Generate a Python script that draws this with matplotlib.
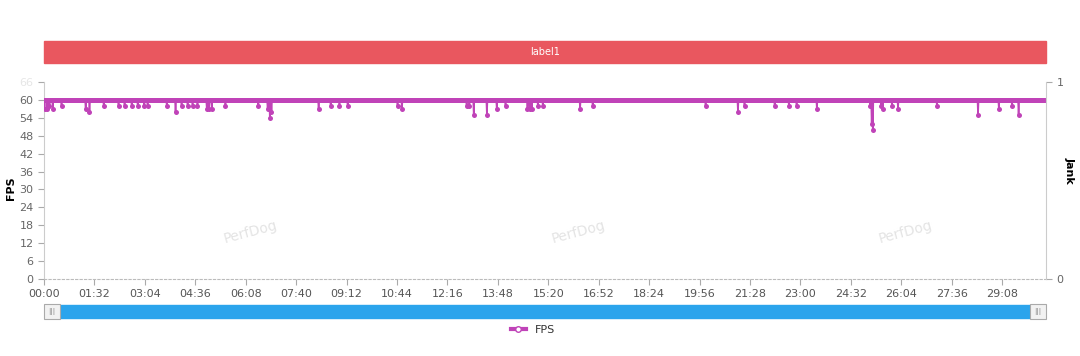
import matplotlib
matplotlib.use("Agg")
import matplotlib.pyplot as plt
from matplotlib.patches import Rectangle
from matplotlib.lines import Line2D
import numpy as np

### DATA
duration_s = 1828          # length of the session in seconds, 1 sample / s
fps_plateau = 60           # fps holds at 60 except for the dips below
dip_sec = [1, 6, 10, 16, 32, 76, 83, 109, 136, 147, 160, 171, 183, 189, 224,
           240, 251, 262, 271, 280, 297, 301, 306, 331, 391, 408, 412, 415,
           501, 523, 539, 554, 645, 653, 771, 776, 784, 808, 826, 842, 882,
           886, 890, 901, 910, 978, 1001, 1207, 1266, 1278, 1333, 1359, 1373,
           1410, 1507, 1510, 1512, 1527, 1530, 1547, 1558, 1629, 1704, 1742,
           1766, 1778]
dip_fps = [57, 57, 58, 57, 58, 57, 56, 58, 58, 58, 58, 58, 58, 58, 58,
           56, 58, 58, 58, 58, 57, 57, 57, 58, 58, 57, 54, 56,
           57, 58, 58, 58, 58, 57, 58, 58, 55, 55, 57, 58, 57,
           57, 57, 58, 58, 57, 58, 58, 56, 58, 58, 58, 58,
           57, 58, 52, 50, 58, 57, 58, 57, 58, 55, 57,
           58, 55]
fps_ticks = list(range(0, 67, 6))
time_tick_step = 92         # seconds between x labels (00:00, 01:32, ...)
bar_label = "label1"
watermark = "PerfDog"
### END data

t = np.arange(duration_s + 1)
fps = np.full(t.shape, fps_plateau, dtype=float)
fps[dip_sec] = dip_fps

line_col = "#c043b8"
grey = "#666666"

fig = plt.figure(figsize=(10.8, 3.56), dpi=100)
ax = fig.add_axes([44 / 1080, 1 - 279 / 356, 1002 / 1080, 197 / 356])

ax.plot(t, fps, color=line_col, lw=1.2, marker="o", ms=3.6, mew=0, zorder=3)
ax.set_xlim(0, duration_s)
ax.set_ylim(0, 66)
ax.set_yticks(fps_ticks)
ax.tick_params(axis="y", colors="#aaaaaa", labelcolor=grey, labelsize=8, length=4)
ax.get_yticklabels()[-1].set_color("#e6e6e6")

xt = np.arange(0, duration_s, time_tick_step)
ax.set_xticks(xt)
ax.set_xticklabels(["{:02d}:{:02d}".format(s // 60, s % 60) for s in xt])
ax.tick_params(axis="x", colors="#aaaaaa", labelcolor="#555555", labelsize=8, length=4, pad=3)

for s in ["top", "right"]:
    ax.spines[s].set_visible(False)
ax.spines["left"].set_color("#cccccc")
ax.spines["bottom"].set_color("#bbbbbb")
ax.spines["bottom"].set_linestyle((0, (2, 2)))

ax2 = ax.twinx()
ax2.set_ylim(0, 1)
ax2.set_yticks([0, 1])
ax2.tick_params(axis="y", colors="#aaaaaa", labelcolor=grey, labelsize=8, length=4)
for s in ["top", "left", "bottom"]:
    ax2.spines[s].set_visible(False)
ax2.spines["right"].set_color("#cccccc")
ax2.spines["right"].set_bounds(0, 1)

# axis titles placed in figure space so they stay inside the canvas
fig.text(11 / 1080, 1 - 188 / 356, "FPS", fontsize=8, fontweight="bold",
         rotation=90, ha="center", va="center")
fig.text(1070 / 1080, 1 - 170 / 356, "Jank", fontsize=8, fontweight="bold",
         rotation=-90, ha="center", va="center")

# watermarks
for xf in [250, 578, 905]:
    fig.text(xf / 1080, 1 - 232 / 356, watermark, color="#e4e4e4", fontsize=10,
             rotation=15, ha="center", va="center")

# red label bar on top
fig.patches.append(Rectangle((44 / 1080, 1 - 63 / 356), 1002 / 1080, 22 / 356,
                             transform=fig.transFigure, color="#e9575f", zorder=0))
fig.text(545 / 1080, 1 - 52 / 356, bar_label, color="white", fontsize=7,
         ha="center", va="center")

# zoom slider at the bottom
fig.patches.append(Rectangle((58 / 1080, 1 - 318 / 356), 974 / 1080, 13 / 356,
                             transform=fig.transFigure, color="#2ba4ec", zorder=0))
for hx in [44, 1030]:
    fig.patches.append(Rectangle((hx / 1080, 1 - 319 / 356), 16 / 1080, 15 / 356,
                                 transform=fig.transFigure, facecolor="#f2f2f2",
                                 edgecolor="#aaaaaa", lw=0.8, zorder=1))
    fig.text((hx + 8) / 1080, 1 - 311.5 / 356, "|||", color="#888888", fontsize=5,
             ha="center", va="center")

# legend
h = Line2D([], [], color=line_col, lw=3, marker="o", ms=4, mfc="white", mec=line_col)
fig.legend([h], ["FPS"], loc="center", bbox_to_anchor=(533 / 1080, 1 - 330 / 356),
           frameon=False, fontsize=8, handlelength=1.4, labelcolor="#333333")

fig.savefig("out.png", dpi=100)
